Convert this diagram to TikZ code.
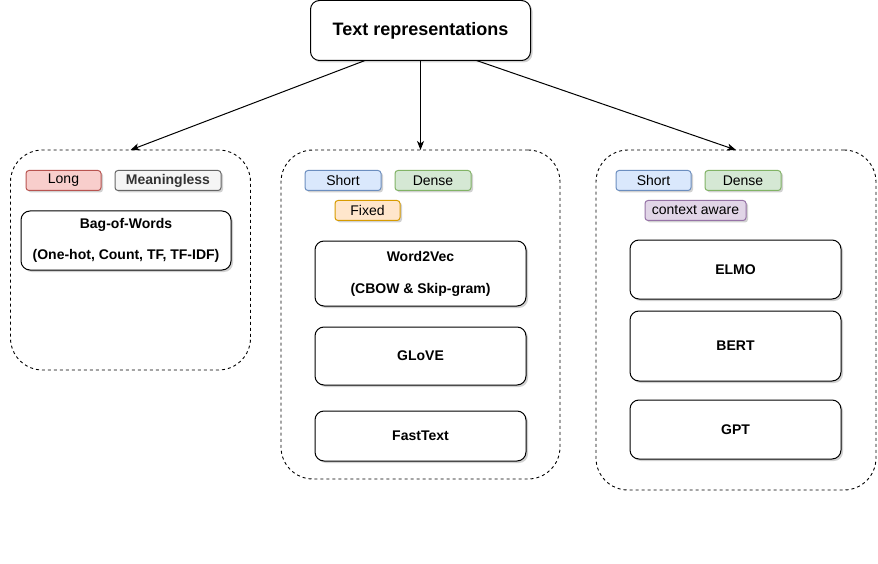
\documentclass[tikz,border=0pt]{standalone}
\usepackage{fontspec}
\setmainfont{Liberation Sans}
\usetikzlibrary{arrows.meta,shadows,calc}
\definecolor{redF}{HTML}{F8CECC}\definecolor{redD}{HTML}{B85450}
\definecolor{grayF}{HTML}{F5F5F5}\definecolor{grayD}{HTML}{666666}\definecolor{grayT}{HTML}{333333}
\definecolor{blueF}{HTML}{DAE8FC}\definecolor{blueD}{HTML}{6C8EBF}
\definecolor{greenF}{HTML}{D5E8D4}\definecolor{greenD}{HTML}{82B366}
\definecolor{orangeF}{HTML}{FFE6CC}\definecolor{orangeD}{HTML}{D79B00}
\definecolor{purpleF}{HTML}{E1D5E7}\definecolor{purpleD}{HTML}{9673A6}
\tikzset{
  shad/.style={drop shadow={shadow xshift=2pt,shadow yshift=-2pt,fill=black,opacity=0.18}},
  tag/.style={shad,draw,line width=1pt,rounded corners=3pt,inner sep=0pt,outer sep=0pt,minimum height=20pt,font=\fontsize{14}{16}\selectfont},
  box/.style={shad,draw=black,fill=white,line width=1pt,rounded corners=9pt,inner sep=0pt,outer sep=0pt,minimum width=211pt,align=center,font=\fontsize{14}{16}\selectfont\bfseries},
  group/.style={draw=black,line width=0.9pt,dash pattern=on 3pt off 3pt,rounded corners=32pt,inner sep=0pt,outer sep=0pt},
  arr/.style={draw=black,line width=1pt,-{Stealth[length=9pt,width=7pt,inset=2.5pt]}},
}
\begin{document}
\begin{tikzpicture}[x=1pt,y=-1pt]
\useasboundingbox[fill=white] (0,0) rectangle (878,564);
% title
\node[shad,draw=black,fill=white,line width=1pt,rounded corners=9pt,inner sep=0pt,outer sep=0pt,minimum width=220pt,minimum height=60pt,font=\fontsize{18}{20}\selectfont\bfseries] (title) at (420.5,30.5) {Text representations};
% containers
\node[group,minimum width=240pt,minimum height=220pt] (left) at (130.5,260) {};
\node[group,minimum width=279pt,minimum height=329pt] (mid) at (420.5,314.5) {};
\node[group,minimum width=280pt,minimum height=340pt] (right) at (736,320) {};
% arrows
\draw[arr] ($(title.south)+(-55.5,0)$) -- (left.north);
\draw[arr] (title.south) -- (mid.north);
\draw[arr] ($(title.south)+(56,0)$) -- (right.north);
% left tags and box
\node[tag,fill=redF,draw=redD,minimum width=75pt] (long) at (63.5,180.5) {Long};
\node[tag,fill=grayF,draw=grayD,text=grayT,minimum width=106pt,font=\fontsize{14}{16}\selectfont\bfseries] (meaning) at (168,180.5) {Meaningless};
\node[box,minimum width=210pt,minimum height=59pt] (bow) at (126,240.5) {Bag-of-Words\\[15pt](One-hot, Count, TF, TF-IDF)};
% middle tags and boxes
\node[tag,fill=blueF,draw=blueD,minimum width=76pt] (short1) at (343,180.5) {Short};
\node[tag,fill=greenF,draw=greenD,minimum width=76pt] (dense1) at (433,180.5) {Dense};
\node[tag,fill=orangeF,draw=orangeD,minimum width=65pt] (fixed) at (367.5,210.5) {Fixed};
\node[box,minimum height=65pt] (w2v) at (420.5,273.5) {Word2Vec\\[16pt](CBOW \& Skip-gram)};
\node[box,minimum height=58pt] (glove) at (420.5,356) {GLoVE};
\node[box,minimum height=50pt] (fasttext) at (420.5,436) {FastText};
% right tags and boxes
\node[tag,fill=blueF,draw=blueD,minimum width=75pt] (short2) at (653.5,180.5) {Short};
\node[tag,fill=greenF,draw=greenD,minimum width=76pt] (dense2) at (743,180.5) {Dense};
\node[tag,fill=purpleF,draw=purpleD,minimum width=101pt] (ctx) at (695.5,210.5) {context aware};
\node[box,minimum height=59pt] (elmo) at (735.5,269.5) {ELMO};
\node[box,minimum height=70pt] (bert) at (735.5,346) {BERT};
\node[box,minimum height=59pt] (gpt) at (735.5,429.5) {GPT};
\end{tikzpicture}
\end{document}
